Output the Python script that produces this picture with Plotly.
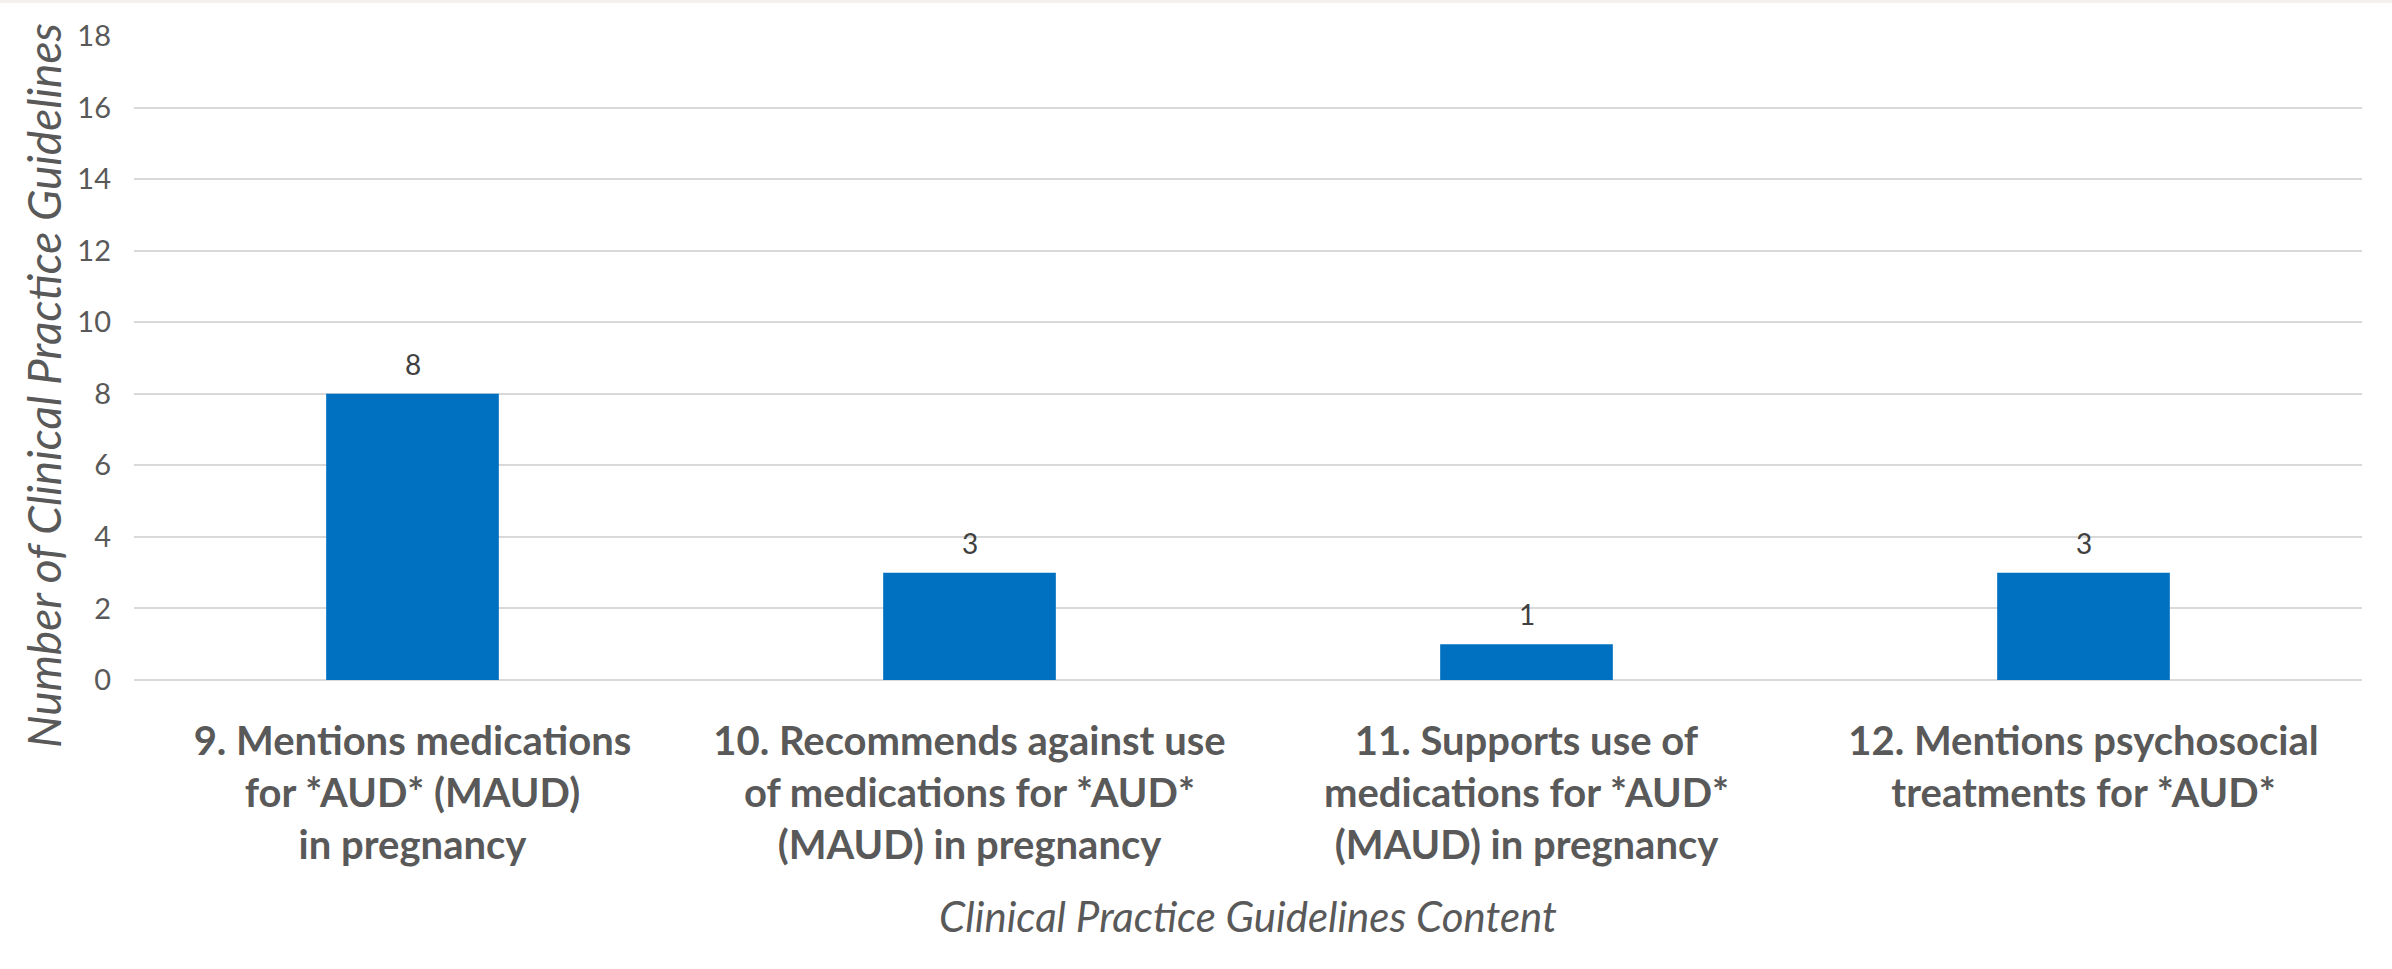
import plotly.graph_objects as go

# Guideline content categories and counts
categories = [
    "9. Mentions medications<br>for *AUD* (MAUD)<br>in pregnancy",
    "10. Recommends against use<br>of medications for *AUD*<br>(MAUD) in pregnancy",
    "11. Supports use of<br>medications for *AUD*<br>(MAUD) in pregnancy",
    "12. Mentions psychosocial<br>treatments for *AUD*",
]
counts = [8, 3, 1, 3]
y_ticks = [0, 2, 4, 6, 8, 10, 12, 14, 16, 18]

FONT = "Lato"
BAR_COLOR = "#0070C0"
GRID_COLOR = "#D9D9D9"
TEXT_COLOR = "#595959"

MARGIN_L = 134
MARGIN_R = 30
MARGIN_T = 36
MARGIN_B = 289
PLOT_W = 2392 - MARGIN_L - MARGIN_R
PLOT_H = 969 - MARGIN_T - MARGIN_B

fig = go.Figure()
fig.add_trace(
    go.Bar(
        x=categories,
        y=counts,
        marker=dict(color=BAR_COLOR, line=dict(width=0)),
        hoverinfo="skip",
    )
)

# Value labels above each bar
for cat, val in zip(categories, counts):
    fig.add_annotation(
        x=cat, y=val, xref="x", yref="y",
        text=str(val), showarrow=False,
        yshift=30,
        font=dict(family=FONT, size=28, color="#404040"),
    )

# Vertical axis title, set a little below the plot's midline
fig.add_annotation(
    xref="paper", yref="paper",
    x=(43 - MARGIN_L) / PLOT_W, y=(969 - MARGIN_B - 386) / PLOT_H,
    xanchor="center", yanchor="middle",
    text="<i>Number of Clinical Practice Guidelines</i>",
    textangle=-90, showarrow=False,
    font=dict(family=FONT, size=46, color=TEXT_COLOR),
)

# Thin strip along the top edge of the page
fig.add_shape(
    type="rect", xref="paper", yref="paper",
    x0=-1, x1=2,
    y0=1 + (MARGIN_T - 3) / PLOT_H,
    y1=1 + (MARGIN_T + 2) / PLOT_H,
    fillcolor="#F4F1EC", line=dict(width=0), layer="below",
)

fig.update_layout(
    width=2392,
    height=969,
    margin=dict(l=MARGIN_L, r=MARGIN_R, t=MARGIN_T, b=MARGIN_B),
    paper_bgcolor="white",
    plot_bgcolor="white",
    bargap=0.69,
    showlegend=False,
    font=dict(family=FONT, color=TEXT_COLOR),
)

fig.update_xaxes(
    tickfont=dict(family=FONT, size=40, color=TEXT_COLOR, weight="bold"),
    ticks="",
    showline=False,
    showgrid=False,
    ticklabelstandoff=34,
    title=dict(
        text="<i>Clinical Practice Guidelines Content</i>",
        font=dict(family=FONT, size=42, color=TEXT_COLOR),
        standoff=35,
    ),
)

fig.update_yaxes(
    range=[0, 18],
    tickvals=y_ticks,
    ticktext=[str(v) for v in y_ticks],
    tickfont=dict(family=FONT, size=29, color=TEXT_COLOR),
    showgrid=True,
    gridcolor=GRID_COLOR,
    gridwidth=2,
    zeroline=True,
    zerolinecolor=GRID_COLOR,
    zerolinewidth=2,
    ticks="",
    ticklabelstandoff=22,
)

fig.write_html("out.html")
